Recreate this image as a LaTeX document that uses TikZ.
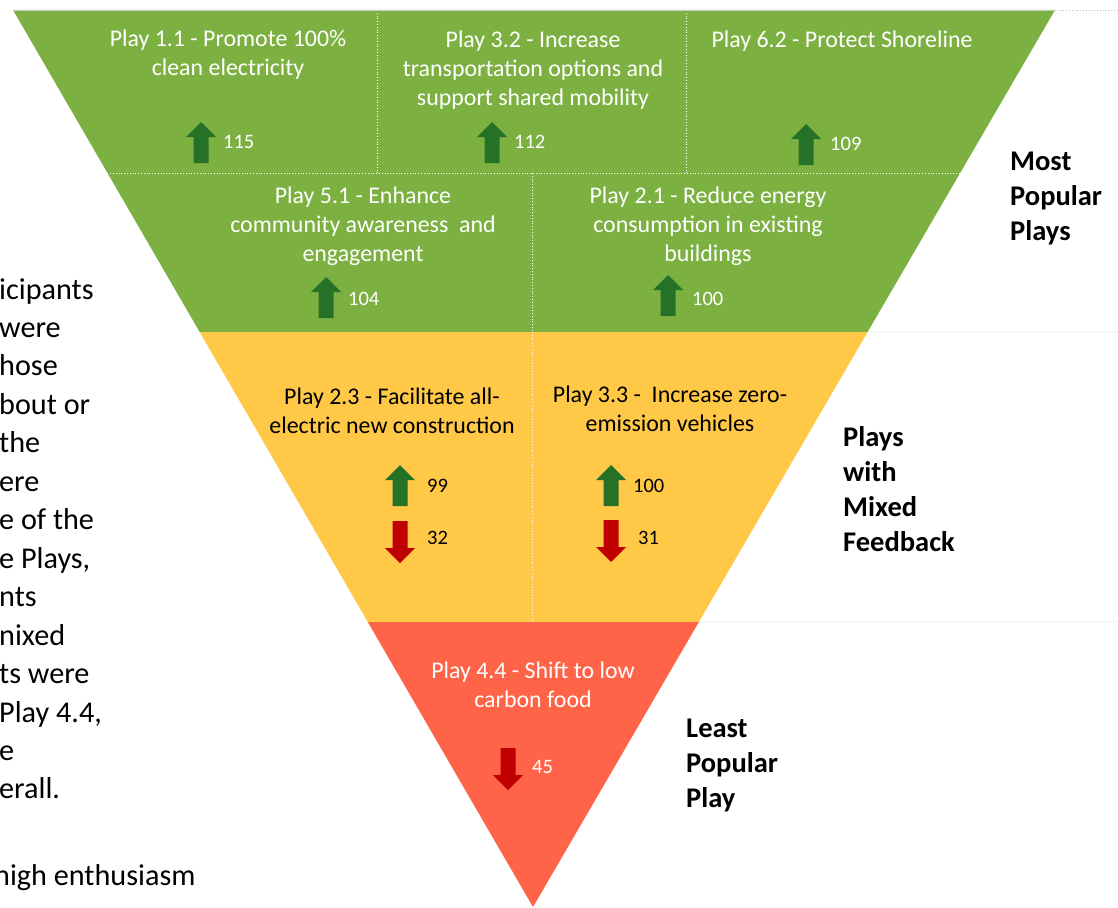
\documentclass[tikz,border=0pt]{standalone}
\usepackage{fontspec}
\setmainfont{Carlito}
\usetikzlibrary{calc}
\definecolor{playgreen}{RGB}{124,177,66}
\definecolor{playyellow}{RGB}{255,200,70}
\definecolor{playred}{RGB}{255,100,72}
\definecolor{upgreen}{RGB}{38,113,40}
\definecolor{downred}{RGB}{192,0,0}

\begin{document}
\begin{tikzpicture}[x=1pt,y=-1pt,
    playtext/.style={align=center,inner sep=0pt,font=\fontsize{23.9}{29}\selectfont},
    score/.style={anchor=west,inner sep=0pt,font=\fontsize{20.5}{24}\selectfont},
    band/.style={anchor=west,align=left,inner sep=0pt,font=\fontsize{28.5}{35}\selectfont\bfseries},
    sidetext/.style={anchor=base west,inner sep=0pt,font=\fontsize{30.2}{38}\selectfont},
    divider/.style={white,dotted,line width=0.8pt},
    guide/.style={black!25,dotted,line width=0.8pt},
    uparr/.pic={\fill[upgreen] (-7.5,41) -- (-7.5,15) -- (-15,15) -- (0,0) -- (15,15) -- (7.5,15) -- (7.5,41) -- cycle;},
    downarr/.pic={\fill[downred] (-7.5,0) -- (7.5,0) -- (7.5,27) -- (15,27) -- (0,42) -- (-15,27) -- (-7.5,27) -- cycle;}
]
\useasboundingbox (0,0) rectangle (1118,907);

% Funnel
\coordinate (tl) at (13,10);
\coordinate (tr) at (1055,10);
\coordinate (apex) at (533,907);
\coordinate (ml) at ($(tl)!0.1817!(apex)$);
\coordinate (mr) at ($(tr)!0.1817!(apex)$);
\coordinate (gl) at ($(tl)!0.359!(apex)$);
\coordinate (gr) at ($(tr)!0.359!(apex)$);
\coordinate (yl) at ($(tl)!0.6823!(apex)$);
\coordinate (yr) at ($(tr)!0.6823!(apex)$);

\fill[playgreen] (tl) -- (tr) -- (gr) -- (gl) -- cycle;
\fill[playyellow] (gl) -- (gr) -- (yr) -- (yl) -- cycle;
\fill[playred] (yl) -- (yr) -- (apex) -- cycle;

% Dividers
\draw[divider] (ml) -- (mr);
\draw[divider] (377,10) -- (377,173);
\draw[divider] (686,10) -- (686,173);
\draw[divider] (532,173) -- (532,332);
\draw[divider] (532,332) -- (532,622);

% Guides to the labels
\draw[black!20] (tl) -- (tr);
\draw[guide] (tr) -- (1118,10);
\draw[guide] (gr) -- (1118,332);
\draw[guide] (yr) -- (1118,622);

% Most popular plays
\node[playtext,white] (p11) at (228,55) {Play 1.1 - Promote 100\%\\clean electricity};
\node[playtext,white] (p32) at (533,70) {Play 3.2 - Increase\\transportation options and\\support shared mobility};
\node[playtext,white] (p62) at (842,41) {Play 6.2 - Protect Shoreline};
\node[playtext,white] (p51) at (363,226) {Play 5.1 - Enhance\\community awareness\ \ and\\engagement};
\node[playtext,white] (p21) at (708,226) {Play 2.1 - Reduce energy\\consumption in existing\\buildings};

\pic at (201,122) {uparr};
\node[score,white] (n11) at (223,142) {115};
\pic at (492,122) {uparr};
\node[score,white] (n32) at (514,142) {112};
\pic at (806,124) {uparr};
\node[score,white] (n62) at (830,144) {109};
\pic at (326,277) {uparr};
\node[score,white] (n51) at (348,299) {104};
\pic at (668,275) {uparr};
\node[score,white] (n21) at (692,299) {100};

% Mixed feedback
\node[playtext] (p23) at (392,411) {Play 2.3 - Facilitate all-\\electric new construction};
\node[playtext] (p33) at (670,409) {Play 3.3 -\ \ Increase zero-\\emission vehicles};

\pic at (400,465) {uparr};
\node[score] (u23) at (427,486) {99};
\pic at (400,521) {downarr};
\node[score] (d23) at (427,538) {32};
\pic at (611,465) {uparr};
\node[score] (u33) at (633,486) {100};
\pic at (611,520) {downarr};
\node[score] (d33) at (638,538) {31};

% Least popular
\node[playtext,white] (p44) at (533,685) {Play 4.4 - Shift to low\\carbon food};
\pic at (508,748) {downarr};
\node[score,white] (d44) at (532,767) {45};

% Band labels
\node[band] (most) at (1010,198) {Most\\Popular\\Plays};
\node[band] (mixed) at (843,489) {Plays\\with\\Mixed\\Feedback};
\node[band] (least) at (686,765) {Least\\Popular\\Play};

% Cut-off paragraph on the left
\foreach \txt [count=\i] in {icipants,were,hose,bout or,the,ere,e of the,{e Plays,},nts,nixed,ts were,{Play 4.4,},e,erall.}
  \node[sidetext] (side\i) at (-1,299+38.46*\i-38.46) {\txt};
\node[sidetext] (side15) at (-6,885) {high enthusiasm};

\end{tikzpicture}
\end{document}
